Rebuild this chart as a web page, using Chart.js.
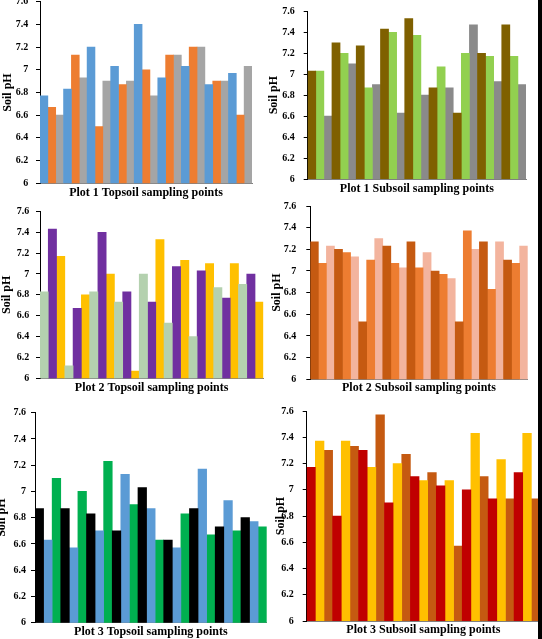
<!DOCTYPE html>
<html>
<head>
<meta charset="utf-8">
<script src="https://cdn.jsdelivr.net/npm/chart.js@4"></script>
<style>
  html, body { margin: 0; padding: 0; background: #fff; overflow: hidden; }
  body { width: 542px; height: 639px; position: relative; }
  canvas { position: absolute; }
  #edge { position: absolute; left: 538px; top: 0; width: 4px; height: 639px; background: #000; }
</style>
</head>
<body>
<canvas id="c1"></canvas>
<canvas id="c2"></canvas>
<canvas id="c3"></canvas>
<canvas id="c4"></canvas>
<canvas id="c5"></canvas>
<canvas id="c6"></canvas>
<div id="edge"></div>
<script>
// sampling points and y ticks shared by every panel
const points = ['1', '2', '3', '4', '5', '6', '7', '8', '9'];
const yTicks = [6, 6.2, 6.4, 6.6, 6.8, 7, 7.2, 7.4, 7.6];

// Plot 1 topsoil
const p1TopA = [6.77, 6.83, 7.2, 7.03, 7.4, 6.93, 7.03, 6.87, 6.97];
const p1TopB = [6.67, 7.13, 6.5, 6.87, 7.0, 7.13, 7.2, 6.9, 6.6];
const p1TopC = [6.6, 6.93, 6.9, 6.9, 6.77, 7.13, 7.2, 6.9, 7.03];

// Plot 1 subsoil
const p1SubA = [7.03, 7.3, 7.27, 7.43, 7.53, 6.87, 6.63, 7.2, 7.47];
const p1SubB = [7.03, 7.2, 6.87, 7.4, 7.37, 7.07, 7.2, 7.17, 7.17];
const p1SubC = [6.6, 7.1, 6.9, 6.63, 6.8, 6.87, 7.47, 6.93, 6.9];

// Plot 2 topsoil
const p2TopA = [6.83, 6.12, 6.83, 6.73, 7.0, 6.53, 6.4, 6.87, 6.9];
const p2TopB = [7.43, 6.67, 7.4, 6.83, 6.73, 7.07, 7.03, 6.77, 7.0];
const p2TopC = [7.17, 6.8, 7.0, 6.07, 7.33, 7.13, 7.1, 7.1, 6.73];

// Plot 2 subsoil
const p2SubA = [7.27, 7.2, 6.53, 7.23, 7.27, 7.0, 6.53, 7.27, 7.1];
const p2SubB = [7.07, 7.17, 7.1, 7.07, 7.03, 6.97, 7.37, 6.83, 7.07];
const p2SubC = [7.23, 7.13, 7.3, 7.03, 7.17, 6.93, 7.2, 7.27, 7.23];

// Plot 3 topsoil
const p3TopA = [6.87, 6.87, 6.83, 6.7, 7.03, 6.63, 6.87, 6.73, 6.8];
const p3TopB = [6.63, 6.57, 6.7, 7.13, 6.87, 6.57, 7.17, 6.93, 6.77];
const p3TopC = [7.1, 7.0, 7.23, 6.9, 6.63, 6.83, 6.67, 6.7, 6.73];

// Plot 3 subsoil
const p3SubA = [7.17, 6.8, 7.3, 6.9, 7.1, 7.03, 7.0, 6.93, 7.13];
const p3SubB = [7.37, 7.37, 7.17, 7.2, 7.07, 7.07, 7.43, 7.23, 7.43];
const p3SubC = [7.3, 7.33, 7.57, 7.27, 7.13, 6.57, 7.1, 6.93, 6.93];

const serif = 'Liberation Serif';
const titleFont = { family: serif, size: 12, weight: 'bold' };
const tickFont = { family: serif, size: 10, weight: 'bold' };

function panel(id, box, title, series, colors) {
  const cv = document.getElementById(id);
  cv.width = box.w;
  cv.height = box.h;
  cv.style.left = box.l + 'px';
  cv.style.top = box.t + 'px';
  new Chart(cv, {
    type: 'bar',
    data: {
      labels: points,
      datasets: series.map((d, i) => ({
        data: d,
        backgroundColor: colors[i],
        categoryPercentage: 1,
        barPercentage: 1
      }))
    },
    options: {
      responsive: false,
      animation: false,
      devicePixelRatio: 1,
      layout: { padding: { top: box.pt, right: box.pr, left: 0, bottom: 0 } },
      plugins: { legend: { display: false }, tooltip: { enabled: false } },
      scales: {
        x: {
          grid: { display: false },
          ticks: { display: false },
          border: { color: '#808080' },
          title: { display: true, text: title, color: '#000', font: titleFont, padding: { top: 0, bottom: box.tb } },
          afterFit: s => { s.height = box.xh; }
        },
        y: {
          min: 6,
          max: 7.6,
          afterBuildTicks: s => { s.ticks = yTicks.map(v => ({ value: v })); },
          ticks: { color: '#000', font: tickFont, padding: box.tp, z: 1, callback: v => String(+v.toFixed(1)) },
          grid: { drawOnChartArea: false, tickLength: 4, color: '#000' },
          border: { color: '#000' },
          title: { display: true, text: 'Soil pH', color: '#000', font: titleFont, padding: { top: box.yp, bottom: 0 } },
          afterFit: s => { s.width = box.yw; }
        }
      }
    }
  });
}

panel('c1', { l: 0, t: -12, w: 271, h: 217, pt: 13.5, pr: 19, yw: 40, xh: 21.7, tb: 4.8, yp: 0.8, tp: 7.7 },
  'Plot 1 Topsoil sampling points', [p1TopA, p1TopB, p1TopC], ['#5B9BD5', '#ED7D31', '#A5A5A5']);

panel('c2', { l: 266, t: -10, w: 276, h: 210, pt: 21.3, pr: 16, yw: 41.7, xh: 21, tb: 3.8, yp: 0.8, tp: 9 },
  'Plot 1 Subsoil sampling points', [p1SubA, p1SubB, p1SubC], ['#7F6000', '#92D050', '#8A8A8A']);

panel('c3', { l: 0, t: 196, w: 271, h: 204, pt: 15.4, pr: 7.7, yw: 40, xh: 21.7, tb: 5.1, yp: 0, tp: 6.7 },
  'Plot 2 Topsoil sampling points', [p2TopA, p2TopB, p2TopC], ['#B4D1AF', '#7030A0', '#FFC000']);

panel('c4', { l: 269, t: 190, w: 273, h: 210, pt: 12.8, pr: 14.3, yw: 41.3, xh: 20.7, tb: 4.5, yp: 0.8, tp: 10 },
  'Plot 2 Subsoil sampling points', [p2SubA, p2SubB, p2SubC], ['#C55A11', '#ED7D31', '#F3B49E']);

panel('c5', { l: -6, t: 398, w: 277, h: 247, pt: 14.7, pr: 4.3, yw: 41, xh: 22.3, tb: 5.5, yp: 0.8, tp: 5 },
  'Plot 3 Topsoil sampling points', [p3TopA, p3TopB, p3TopC], ['#000000', '#5B9BD5', '#00B050']);

panel('c6', { l: 271, t: 396, w: 271, h: 249, pt: 12.7, pr: 2, yw: 35.7, xh: 24, tb: 7.8, yp: 2.8, tp: 9 },
  'Plot 3 Subsoil sampling points', [p3SubA, p3SubB, p3SubC], ['#C00000', '#FFC000', '#C55A11']);
</script>
</body>
</html>
